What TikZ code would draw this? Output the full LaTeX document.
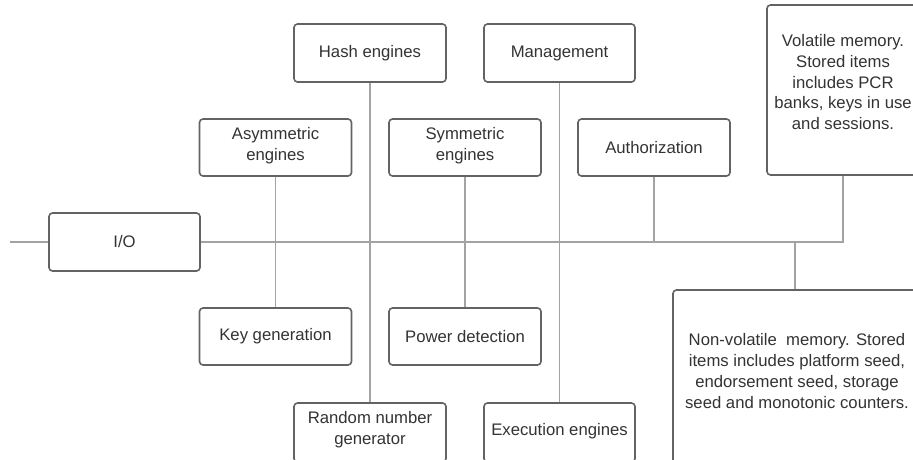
\documentclass[tikz,border=0pt]{standalone}
\usepackage{fontspec}
\setmainfont{Liberation Sans}
\definecolor{boxc}{HTML}{636363}
\definecolor{wirec}{HTML}{A3A3A3}
\definecolor{txt}{HTML}{333333}
\newcommand{\lift}[2]{\raisebox{#1}[\height][\depth]{\begin{tabular}{@{}c@{}}#2\end{tabular}}}
\begin{document}
\begin{tikzpicture}[x=1pt,y=-1pt,
  box/.style={draw=boxc, line width=1.6pt, rounded corners=3.5pt, fill=white,
    text=txt, align=center, inner sep=0pt, minimum width=152pt, minimum height=57pt,
    font=\fontsize{16.7}{20.8}\selectfont},
  wire/.style={draw=wirec, line width=1.5pt}]
\useasboundingbox (0,0) rectangle (913,459);
% nodes
\node[box, minimum width=151pt, minimum height=58pt] (io) at (124.5,242) {I/O};
\node[box, minimum height=58pt] (hash) at (370,53) {Hash engines};
\node[box, minimum width=151pt, minimum height=58pt] (mgmt) at (559.5,53) {Management};
\node[box] (asym) at (275.5,147.5) {\lift{2pt}{Asymmetric\\engines}};
\node[box] (sym) at (465,147.5) {\lift{2pt}{Symmetric\\engines}};
\node[box] (auth) at (654,147.5) {Authorization};
\node[box] (keygen) at (275.5,336.5) {Key generation};
\node[box] (power) at (465,336.5) {Power detection};
\node[box, minimum height=59pt] (rng) at (370,432.5) {\lift{3pt}{Random number\\generator}};
\node[box, minimum width=151pt, minimum height=59pt] (exec) at (559.5,432.5) {\lift{1pt}{Execution engines}};
\node[box, minimum height=170pt] (vol) at (843,90) {\lift{6pt}{Volatile memory.\\Stored items\\includes PCR\\banks, keys in use\\and sessions.}};
\node[box, minimum width=248pt, minimum height=174pt] (nv) at (797,377) {\lift{4pt}{Non-volatile\ \ memory. Stored\\items includes platform seed,\\endorsement seed, storage\\seed and monotonic counters.}};
% connectors
\coordinate (in) at (10,242);
\coordinate (nvtap) at (795,242);
\draw[wire] (in) -- (io.west);
\draw[wire] (io.east) -- (vol.south |- io.east) -- (vol.south);
\draw[wire] (hash.south) -- (rng.north);
\draw[wire] (mgmt.south) -- (exec.north);
\draw[wire] (asym.south) -- (keygen.north);
\draw[wire] (sym.south) -- (power.north);
\draw[wire] (auth.south) -- (auth.south |- io.east);
\draw[wire] (nvtap) -- (nvtap |- nv.north);
\end{tikzpicture}
\end{document}
